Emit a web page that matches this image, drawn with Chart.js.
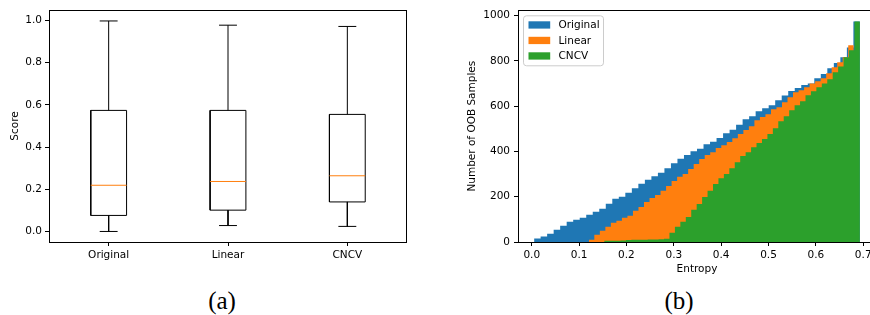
<!DOCTYPE html>
<html>
<head>
<meta charset="utf-8">
<script src="https://cdn.jsdelivr.net/npm/chart.js@4/dist/chart.umd.min.js"></script>
<style>
html, body { margin: 0; padding: 0; width: 870px; height: 315px; overflow: hidden; background: #fff; }
canvas { position: absolute; top: 0; }
#ca { left: 0; }
#cb { left: 430px; }
.cap { position: absolute; top: 288px; font-family: 'Liberation Serif', serif; font-size: 25px; line-height: 25px; transform: translateX(-50%); color: #000; }
</style>
</head>
<body>
<canvas id="ca" width="430" height="280"></canvas>
<canvas id="cb" width="460" height="280"></canvas>
<div class="cap" style="left:222px">(a)</div>
<div class="cap" style="left:679px">(b)</div>
<script>
// (a) box plot of scores
const cats = ['Original', 'Linear', 'CNCV'];
const wLow = [0.0, 0.028, 0.024];
const q1 = [0.076, 0.101, 0.140];
const med = [0.219, 0.237, 0.264];
const q3 = [0.574, 0.574, 0.555];
const wHigh = [0.998, 0.978, 0.972];
const scoreTicks = [0, 0.2, 0.4, 0.6, 0.8, 1.0];

// (b) cumulative histograms of entropy, one bin range per series
const series = ['Original', 'Linear', 'CNCV'];
const colors = ['#1f77b4', '#ff7f0e', '#2ca02c'];
const origRange = [0.005, 0.693];
const origCounts = [15, 24, 37, 54, 72, 90, 98, 107, 120, 134, 147, 169, 191, 200, 218, 238, 257, 275, 291, 306,
  326, 348, 368, 385, 401, 412, 432, 443, 460, 481, 496, 518, 543, 556, 578, 591, 604, 627, 648, 667,
  681, 694, 701, 724, 742, 768, 791, 816, 860, 975];
const linRange = [0.1205, 0.680];
const linCounts = [10, 32, 50, 67, 85, 94, 107, 116, 138, 155, 177, 195, 208, 226, 248, 270, 288, 301, 323, 345,
  367, 385, 397, 415, 428, 442, 459, 477, 495, 512, 538, 552, 565, 587, 596, 618, 640, 662, 671, 684,
  701, 710, 724, 746, 772, 794, 816, 869];
const cncvRange = [0.153, 0.693];
const cncvCounts = [5, 6, 6, 7, 9, 10, 10, 10, 11, 11, 12, 14, 41, 67, 89, 111, 142, 168, 199, 226,
  256, 282, 300, 326, 353, 380, 397, 419, 437, 455, 477, 503, 534, 556, 582, 604, 622, 649, 666, 684,
  701, 719, 750, 776, 816, 847, 975];
const entropyTicks = [0, 0.1, 0.2, 0.3, 0.4, 0.5, 0.6, 0.7];
const countTicks = [0, 200, 400, 600, 800, 1000];

Chart.defaults.font.family = '"DejaVu Sans", sans-serif';
Chart.defaults.font.size = 10.5;
Chart.defaults.color = '#000';

const FONT = { family: '"DejaVu Sans", sans-serif', size: 10.5 };
const tickGrid = { drawOnChartArea: false, tickLength: 4, tickColor: '#000', tickWidth: 1 };

const frame = {
  id: 'frame',
  afterDraw(chart) {
    const { ctx, chartArea: a } = chart;
    ctx.save();
    ctx.strokeStyle = '#000'; ctx.lineWidth = 1;
    const x0 = Math.round(a.left) + 0.5, y0 = Math.round(a.top) + 0.5;
    const x1 = Math.round(a.right) - 0.5, y1 = Math.round(a.bottom) + 0.5;
    ctx.strokeRect(x0, y0, x1 - x0, y1 - y0);
    ctx.restore();
  }
};

// ---- box plot ----
const BOX = 0.15, CAP = 0.075;
const gap = x => ({ x, y: null });
const boxPts = [], medPts = [], whiskPts = [];
cats.forEach((c, i) => {
  const x = i + 1;
  boxPts.push({ x: x - BOX, y: q1[i] }, { x: x + BOX, y: q1[i] }, { x: x + BOX, y: q3[i] },
    { x: x - BOX, y: q3[i] }, { x: x - BOX, y: q1[i] }, gap(x));
  medPts.push({ x: x - BOX, y: med[i] }, { x: x + BOX, y: med[i] }, gap(x));
  whiskPts.push({ x, y: q3[i] }, { x, y: wHigh[i] }, gap(x),
    { x, y: q1[i] }, { x, y: wLow[i] }, gap(x),
    { x: x - CAP, y: wHigh[i] }, { x: x + CAP, y: wHigh[i] }, gap(x),
    { x: x - CAP, y: wLow[i] }, { x: x + CAP, y: wLow[i] }, gap(x));
});

const lineDs = (data, color) => ({ data, borderColor: color, borderWidth: 1, pointRadius: 0, fill: false, tension: 0 });

new Chart(document.getElementById('ca'), {
  type: 'line',
  data: { datasets: [lineDs(medPts, '#ff7f0e'), lineDs(boxPts, '#000'), lineDs(whiskPts, '#000')] },
  options: {
    responsive: false, animation: false, events: [],
    layout: { padding: { top: 10, right: 23, left: 0, bottom: 0 } },
    plugins: { legend: { display: false }, tooltip: { enabled: false } },
    scales: {
      x: {
        type: 'linear', min: 0.5, max: 3.5,
        afterBuildTicks: s => { s.ticks = cats.map((c, i) => ({ value: i + 1 })); },
        afterFit: s => { s.height = 38; },
        ticks: { callback: (v, i) => cats[i], font: FONT, color: '#000', padding: 3, maxRotation: 0, autoSkip: false },
        grid: tickGrid, border: { display: false }
      },
      y: {
        min: -0.05, max: 1.05,
        afterBuildTicks: s => { s.ticks = scoreTicks.map(v => ({ value: v })); },
        afterFit: s => { s.width = 49; },
        ticks: { callback: v => v.toFixed(1), font: FONT, color: '#000', padding: 3 },
        grid: tickGrid, border: { display: false },
        title: { display: true, text: 'Score', font: FONT, color: '#000', padding: { top: 8.7, bottom: 0 } }
      }
    }
  },
  plugins: [frame]
});

// ---- histogram ----
const stepPts = (range, counts) => {
  const w = (range[1] - range[0]) / counts.length;
  const pts = counts.map((c, i) => ({ x: range[0] + i * w, y: c }));
  pts.push({ x: range[1], y: counts[counts.length - 1] });
  return pts;
};
const histData = [stepPts(origRange, origCounts), stepPts(linRange, linCounts), stepPts(cncvRange, cncvCounts)];

const legendBox = {
  id: 'legendBox',
  afterDraw(chart) {
    const { ctx, chartArea: a } = chart;
    const x = a.left + 5.5, y = a.top + 5.5, w = 80, h = 50;
    ctx.save();
    ctx.beginPath();
    if (ctx.roundRect) ctx.roundRect(x, y, w, h, 3); else ctx.rect(x, y, w, h);
    ctx.fillStyle = 'rgba(255,255,255,0.8)'; ctx.fill();
    ctx.strokeStyle = '#cccccc'; ctx.lineWidth = 1; ctx.stroke();
    ctx.font = '10.5px "DejaVu Sans"'; ctx.textBaseline = 'middle';
    chart.data.datasets.forEach((d, i) => {
      const cy = y + 9.2 + i * 15.5;
      ctx.fillStyle = d.backgroundColor;
      ctx.fillRect(x + 5, cy - 3.7, 21.7, 7.3);
      ctx.fillStyle = '#000';
      ctx.fillText(d.label, x + 35, cy + 0.5);
    });
    ctx.restore();
  }
};

new Chart(document.getElementById('cb'), {
  type: 'line',
  data: {
    datasets: series.map((s, i) => ({
      label: s, data: histData[i], order: series.length - i,
      backgroundColor: colors[i], borderColor: colors[i], borderWidth: 0,
      pointRadius: 0, stepped: 'before', fill: 'origin', tension: 0
    }))
  },
  options: {
    responsive: false, animation: false, events: [],
    layout: { padding: { top: 10, right: 14, left: 0, bottom: 0 } },
    plugins: { legend: { display: false }, tooltip: { enabled: false } },
    scales: {
      x: {
        type: 'linear', min: -0.029, max: 0.727,
        afterBuildTicks: s => { s.ticks = entropyTicks.map(v => ({ value: v })); },
        afterFit: s => { s.height = 38; },
        ticks: { callback: v => v.toFixed(1), font: FONT, color: '#000', padding: 3, maxRotation: 0, autoSkip: false },
        grid: tickGrid, border: { display: false },
        title: { display: true, text: 'Entropy', font: FONT, color: '#000', padding: { top: 0, bottom: 4.5 } }
      },
      y: {
        min: 0, max: 1024,
        afterBuildTicks: s => { s.ticks = countTicks.map(v => ({ value: v })); },
        afterFit: s => { s.width = 88; },
        ticks: { callback: v => String(v), font: FONT, color: '#000', padding: 4 },
        grid: tickGrid, border: { display: false },
        title: { display: true, text: 'Number of OOB Samples', font: FONT, color: '#000', padding: { top: 36.4, bottom: 0 } }
      }
    }
  },
  plugins: [frame, legendBox]
});
</script>
</body>
</html>
